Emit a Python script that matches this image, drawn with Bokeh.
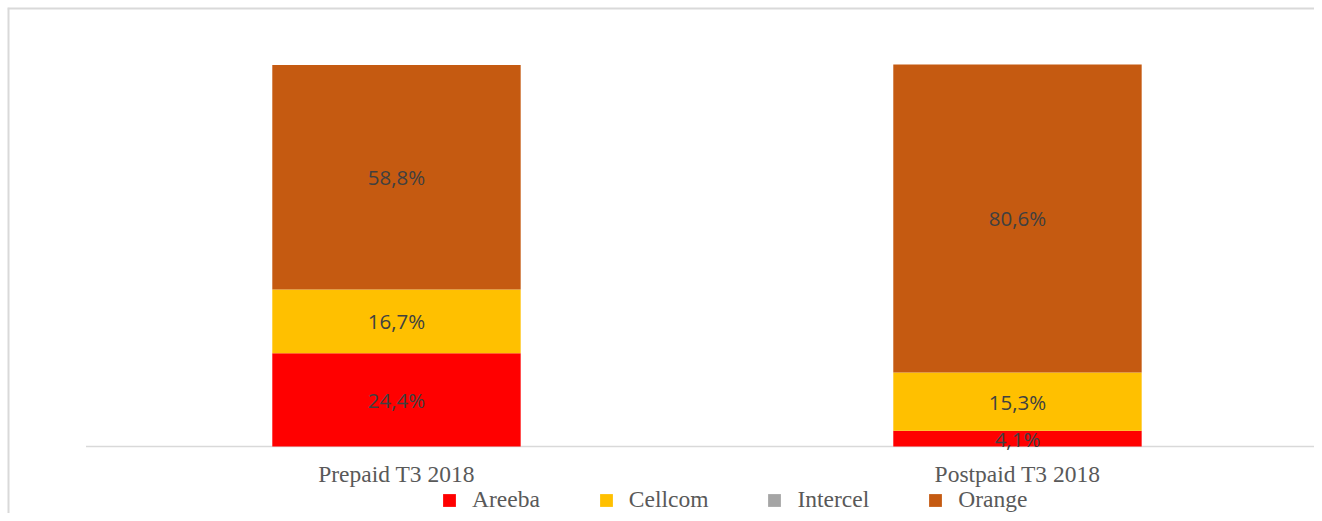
from bokeh.plotting import figure
from bokeh.models import ColumnDataSource, Range1d, Legend, LegendItem
from bokeh.core.properties import value
from bokeh.embed import file_html
from bokeh.resources import INLINE
import numpy as np

categories = ["Prepaid T3 2018", "Postpaid T3 2018"]
operators = ["Areeba", "Cellcom", "Intercel", "Orange"]
areeba = [24.4, 4.1]
cellcom = [16.7, 15.3]
intercel = [0.0, 0.0]
orange = [58.8, 80.6]
colors = ["#FF0000", "#FFC000", "#A5A5A5", "#C55A11"]

x = [i + 0.5 for i in range(len(categories))]
source = ColumnDataSource(dict(x=x, Areeba=areeba, Cellcom=cellcom,
                               Intercel=intercel, Orange=orange))

x0, x1 = -0.1264, 1.9783
y0, y1 = -17.539, 114.92
p = figure(width=1314, height=513, x_range=Range1d(x0, x1), y_range=Range1d(y0, y1),
           output_backend="svg", toolbar_location=None,
           x_axis_location=None, y_axis_location=None,
           min_border_left=7, min_border_right=0, min_border_top=7, min_border_bottom=0)
p.outline_line_color = None
p.xgrid.visible = False
p.ygrid.visible = False

# chart-area border (top and left edges)
p.segment(x0=[x0, x0], y0=[y0, y1], x1=[x0, x1], y1=[y1, y1],
          line_color="#D9D9D9", line_width=4)
# category axis baseline
p.segment(x0=[0], y0=[0], x1=[x1], y1=[0], line_color="#D9D9D9", line_width=1.5)

renderers = p.vbar_stack(operators, x="x", width=0.4, fill_color=colors,
                         line_color=None, source=source)

# data labels
data = np.array([areeba, cellcom, intercel, orange])
cum = np.cumsum(data, axis=0)
mids = cum - data / 2
lx, ly, lt = [], [], []
for j in range(len(operators)):
    for i in range(len(categories)):
        if data[j, i] > 0:
            lx.append(x[i])
            ly.append(mids[j, i])
            lt.append(f"{data[j, i]:.1f}".replace(".", ",") + "%")
p.text(x=lx, y=ly, text=lt, text_align="center", text_baseline="middle",
       text_font=value("Open Sans"), text_font_size="20.5px", text_color="#404040")

# category labels under the baseline
p.text(x=x, y=[0] * len(x), text=categories, text_align="center", text_baseline="top",
       y_offset=14, text_font=value("Liberation Serif"), text_font_size="23.5px",
       text_color="#595959")

items = [LegendItem(label=op, renderers=[r]) for op, r in zip(operators, renderers)]
legend = Legend(items=items, orientation="horizontal", location=(434, 0),
                glyph_width=16, glyph_height=16, label_standoff=15, spacing=58,
                padding=0, margin=0, border_line_color=None, background_fill_alpha=0,
                label_text_font="Liberation Serif", label_text_font_size="23.5px",
                label_text_color="#595959")
p.add_layout(legend, "center")

open("out.html", "w").write(file_html(p, INLINE))
